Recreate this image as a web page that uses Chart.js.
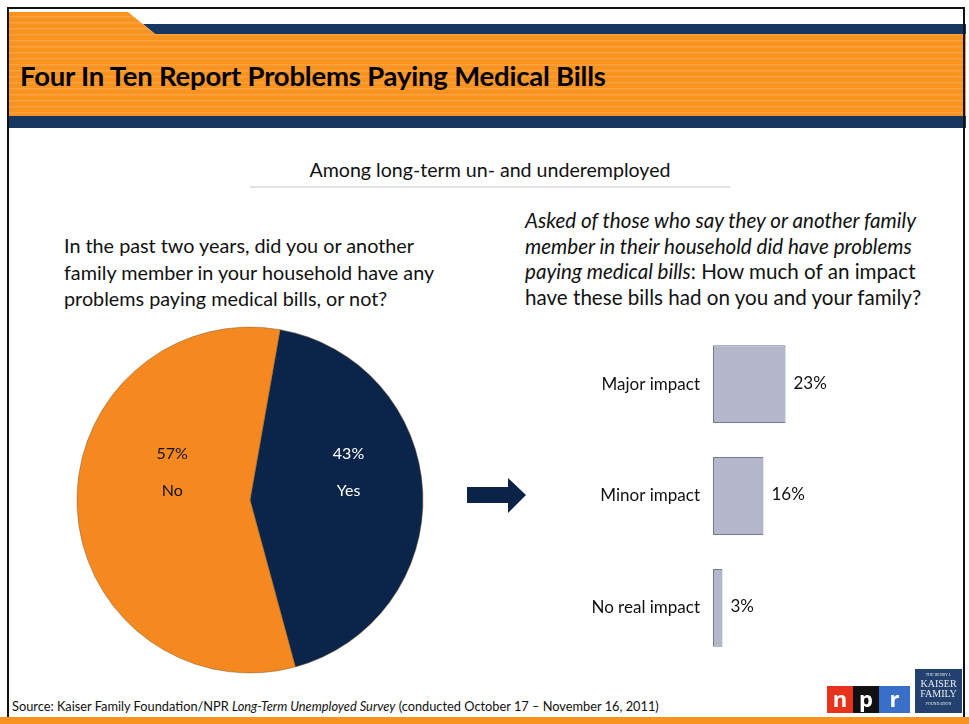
<!DOCTYPE html>
<html lang="en">
<head>
<meta charset="UTF-8">
<title>Four In Ten Report Problems Paying Medical Bills</title>
<script src="https://cdn.jsdelivr.net/npm/chart.js@4"></script>
<style>
  html, body { margin: 0; padding: 0; background: #fff; }
  body { width: 969px; height: 724px; position: relative; overflow: hidden; font-family: Lato, "Open Sans", sans-serif; color: #111; }
  .abs { position: absolute; }
  #frame { left: 7px; top: 7px; width: 958px; height: 720px; border: 2px solid #111; border-bottom: none; box-sizing: border-box; }
  #header { left: 0; top: 0; }
  #title { left: 20px; top: 59px; font-size: 27.5px; line-height: 34px; font-weight: 700; color: #000; letter-spacing: -0.2px; white-space: nowrap; }
  #subtitle { left: 250px; width: 480px; top: 158px; text-align: center; font-size: 19.6px; line-height: 24px; }
  #rule { left: 250px; top: 186px; width: 480px; height: 2px; background: #e2e2e2; }
  #qleft { left: 64px; top: 232px; font-size: 19.8px; line-height: 26.5px; white-space: nowrap; }
  #qright { left: 525px; top: 208px; font-size: 20.6px; line-height: 25.7px; white-space: nowrap; }
  #pieCanvas { left: 70px; top: 320px; }
  #barCanvas { left: 560px; top: 305px; }
  #source { left: 12px; top: 698px; font-size: 12.8px; white-space: nowrap; }
  #bottomBand { left: 0; top: 717px; width: 969px; height: 7px; background: #f7931e; }
  .npr { top: 686px; width: 26px; height: 27px; color: #fff; font: 700 22px "Open Sans", sans-serif; text-align: center; line-height: 24px; }
  #kff { left: 915px; top: 669px; width: 47px; height: 44px; background: #24406e; color: #e8ecf4; font-family: "Liberation Serif", serif; text-align: center; line-height: 1; }
</style>
</head>
<body>
  <svg class="abs" id="header" width="969" height="130">
    <defs>
      <pattern id="stripes" width="6" height="6" patternUnits="userSpaceOnUse">
        <rect width="6" height="6" fill="#f7931e"/>
        <rect y="4" width="6" height="1.5" fill="#f9a23f"/>
      </pattern>
    </defs>
    <polygon points="143,24 966,24 966,34 155,34" fill="#17375e"/>
    <polygon points="8,12 128,12 155,34 966,34 966,116 8,116" fill="url(#stripes)"/>
    <rect x="8" y="116" width="958" height="12" fill="#17375e"/>
  </svg>
  <div class="abs" id="frame"></div>
  <div class="abs" id="title">Four In Ten Report Problems Paying Medical Bills</div>

  <div class="abs" id="subtitle">Among long-term un- and underemployed</div>
  <div class="abs" id="rule"></div>

  <div class="abs" id="qleft">In the past two years, did you or another<br>family member in your household have any<br>problems paying medical bills, or not?</div>
  <div class="abs" id="qright"><i>Asked of those who say they or another family<br>member in their household did have problems<br>paying medical bills</i>: How much of an impact<br>have these bills had on you and your family?</div>

  <canvas class="abs" id="pieCanvas" width="360" height="360"></canvas>

  <svg class="abs" style="left:460px;top:470px" width="80" height="50">
    <polygon points="7,17 48,17 48,8 66,25 48,43 48,33 7,33" fill="#0b2346"/>
  </svg>

  <canvas class="abs" id="barCanvas" width="380" height="382"></canvas>

  <div class="abs" id="source">Source: Kaiser Family Foundation/NPR <i>Long-Term Unemployed Survey</i> (conducted October 17 – November 16, 2011)</div>

  <div class="abs npr" style="left:827px;background:#e8331c">n</div>
  <div class="abs npr" style="left:853px;background:#111">p</div>
  <div class="abs npr" style="left:879px;background:#3a6fc9;width:31px">r</div>
  <div class="abs" id="kff">
    <div style="font-size:4px;margin-top:4px">THE HENRY J.</div>
    <div style="font-size:10px;margin-top:2px">KAISER</div>
    <div style="font-size:10px">FAMILY</div>
    <div style="font-size:4px;margin-top:3px">FOUNDATION</div>
  </div>
  <div class="abs" id="bottomBand"></div>

<script>
  // pie: did anyone in the household have problems paying medical bills
  const pieLabels = ['Yes', 'No'];
  const pieValues = [43, 57];
  const pieColors = ['#0a2549', '#f5891f'];
  const pieTextColors = ['#ffffff', '#111111'];

  // bars: impact of the bills (asked of those who said yes)
  const impactLabels = ['Major impact', 'Minor impact', 'No real impact'];
  const impactValues = [23, 16, 3];

  // draws "43%" / "Yes" inside each slice
  const pieLabelPlugin = {
    id: 'pieLabels',
    afterDatasetsDraw(chart) {
      const ctx = chart.ctx;
      const arcs = chart.getDatasetMeta(0).data;
      const dist = [0.57, 0.45];
      ctx.save();
      ctx.font = '16px Lato, sans-serif';
      ctx.textAlign = 'center';
      ctx.textBaseline = 'middle';
      arcs.forEach((arc, i) => {
        const mid = (arc.startAngle + arc.endAngle) / 2;
        const r = arc.outerRadius * dist[i];
        const x = arc.x + Math.cos(mid) * r;
        const y = arc.y - 28;
        ctx.fillStyle = pieTextColors[i];
        ctx.fillText(pieValues[i] + '%', x, y - 18);
        ctx.fillText(pieLabels[i], x, y + 19);
      });
      ctx.restore();
    }
  };

  new Chart(document.getElementById('pieCanvas'), {
    type: 'pie',
    data: {
      labels: pieLabels,
      datasets: [{
        data: pieValues,
        backgroundColor: pieColors,
        borderColor: '#7a5a30',
        borderWidth: 0.5
      }]
    },
    options: {
      responsive: false,
      animation: false,
      rotation: 10,
      radius: 173,
      layout: { padding: 0 },
      plugins: { legend: { display: false }, tooltip: { enabled: false } }
    },
    plugins: [pieLabelPlugin]
  });

  // value labels to the right of each bar
  const barValuePlugin = {
    id: 'barValues',
    afterDatasetsDraw(chart) {
      const ctx = chart.ctx;
      ctx.save();
      ctx.font = '17px Lato, sans-serif';
      ctx.fillStyle = '#111';
      ctx.textAlign = 'left';
      ctx.textBaseline = 'middle';
      chart.getDatasetMeta(0).data.forEach((bar, i) => {
        ctx.fillText(impactValues[i] + '%', bar.x + 8, bar.y - 1);
      });
      ctx.restore();
    }
  };

  new Chart(document.getElementById('barCanvas'), {
    type: 'bar',
    data: {
      labels: impactLabels,
      datasets: [{
        data: impactValues,
        backgroundColor: '#b4b7c9',
        borderColor: '#6f7d9c',
        borderWidth: 1,
        borderSkipped: false,
        barPercentage: 0.696,
        categoryPercentage: 1
      }]
    },
    options: {
      indexAxis: 'y',
      responsive: false,
      animation: false,
      layout: { padding: 0 },
      scales: {
        x: { display: false, min: 0, max: 72 },
        y: {
          grid: { display: false, drawTicks: false },
          border: { display: false },
          ticks: { padding: 13, color: '#111', font: { family: 'Lato', size: 17 } },
          afterFit(scale) { scale.width = 153; }
        }
      },
      plugins: { legend: { display: false }, tooltip: { enabled: false } }
    },
    plugins: [barValuePlugin]
  });
</script>
</body>
</html>
